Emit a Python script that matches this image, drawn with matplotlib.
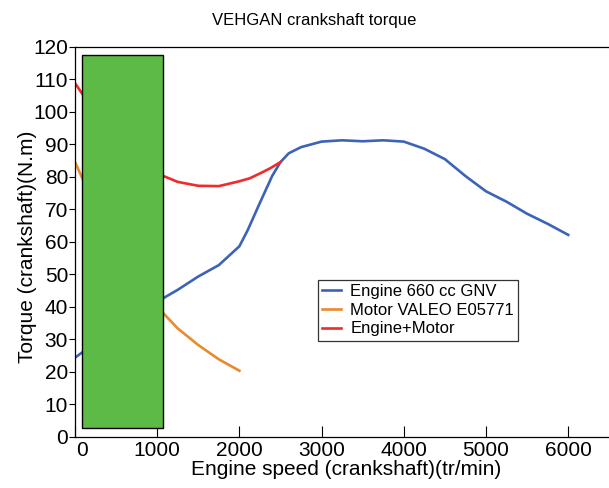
import matplotlib
matplotlib.use("Agg")
import matplotlib.pyplot as plt
import matplotlib.transforms as mtransforms
from matplotlib.patches import Rectangle

plt.rcParams['font.family'] = ['Liberation Sans', 'DejaVu Sans']

# engine torque curve (tr/min, N.m)
engine_rpm = [0, 250, 500, 750, 1000, 1100, 1250, 1500, 1750, 2000, 2100, 2250,
              2400, 2500, 2600, 2750, 3000, 3250, 3500, 3750, 4000, 4250, 4500,
              4750, 5000, 5250, 5500, 5750, 6000]
engine_torque = [24.3, 29.0, 33.5, 37.5, 41.3, 43.0, 45.2, 49.3, 52.8, 58.6, 63.5, 72.0,
                 80.3, 84.5, 87.2, 89.1, 90.8, 91.2, 90.9, 91.2, 90.8, 88.6, 85.4,
                 80.2, 75.5, 72.3, 68.6, 65.5, 62.1]

# electric motor torque
motor_rpm = [0, 250, 500, 750, 1000, 1250, 1500, 1750, 2000]
motor_torque = [84.5, 70.5, 59.0, 48.5, 40.0, 33.3, 28.2, 23.8, 20.3]

# combined torque
combined_rpm = [0, 250, 500, 750, 1000, 1250, 1500, 1750, 2000, 2125, 2250, 2375, 2500]
combined_torque = [108.8, 99.5, 92.5, 86.0, 81.0, 78.4, 77.2, 77.1, 78.6, 79.5, 81.0, 82.6, 84.5]

labels = ['Engine 660 cc GNV', 'Motor VALEO E05771', 'Engine+Motor']
colors = ['#3d63b8', '#ea8a2c', '#ef2b2b']

# green block over the low speed range
box_x = (81, 1074)
box_y = (2.6, 117.4)

fig = plt.figure(figsize=(6.09, 4.88), dpi=100)
ax = fig.add_axes([75 / 609, 51.3 / 488, 6600 * 0.0822 / 609, 390 / 488])

ax.plot(engine_rpm, engine_torque, color=colors[0], lw=1.9, label=labels[0])
ax.plot(motor_rpm, motor_torque, color=colors[1], lw=1.9, label=labels[1])
ax.plot(combined_rpm, combined_torque, color=colors[2], lw=1.9, label=labels[2])

ax.add_patch(Rectangle((box_x[0], box_y[0]), box_x[1] - box_x[0], box_y[1] - box_y[0],
                       facecolor='#5dba47', edgecolor='black', lw=1.0, zorder=5))

ax.set_xlim(0, 6600)
ax.set_ylim(0, 120)
ax.set_xticks(range(0, 7000, 1000))
ax.set_yticks(range(0, 130, 10))
ax.tick_params(axis='x', direction='in', length=8, width=0.8, labelsize=15, pad=3)
ax.tick_params(axis='y', direction='out', length=4.5, width=0.8, labelsize=15, pad=0.5)
for s in ax.spines.values():
    s.set_linewidth(0.9)

# first x label sits a little right of the corner
lbl0 = ax.get_xticklabels()[0]
lbl0.set_transform(lbl0.get_transform() +
                   mtransforms.ScaledTranslation(7 / 100, 0, fig.dpi_scale_trans))

ax.set_xlabel('Engine speed (crankshaft)(tr/min)', fontsize=15, labelpad=0)
ax.set_ylabel('Torque (crankshaft)(N.m)', fontsize=15)
ax.yaxis.set_label_coords(-0.0695, 0.486)
fig.text(314 / 609, 1 - 21 / 488, 'VEHGAN crankshaft torque', fontsize=12,
         ha='center', va='center')

leg = ax.legend(loc='upper left', bbox_to_anchor=(318 / 609, 1 - 280 / 488),
                bbox_transform=fig.transFigure, borderaxespad=0, fontsize=12,
                frameon=True, fancybox=False, handlelength=1.1, handletextpad=0.6,
                labelspacing=0.22, borderpad=0.25)
leg.get_frame().set_edgecolor('black')
leg.get_frame().set_linewidth(0.9)

fig.savefig('out.png', dpi=100)
